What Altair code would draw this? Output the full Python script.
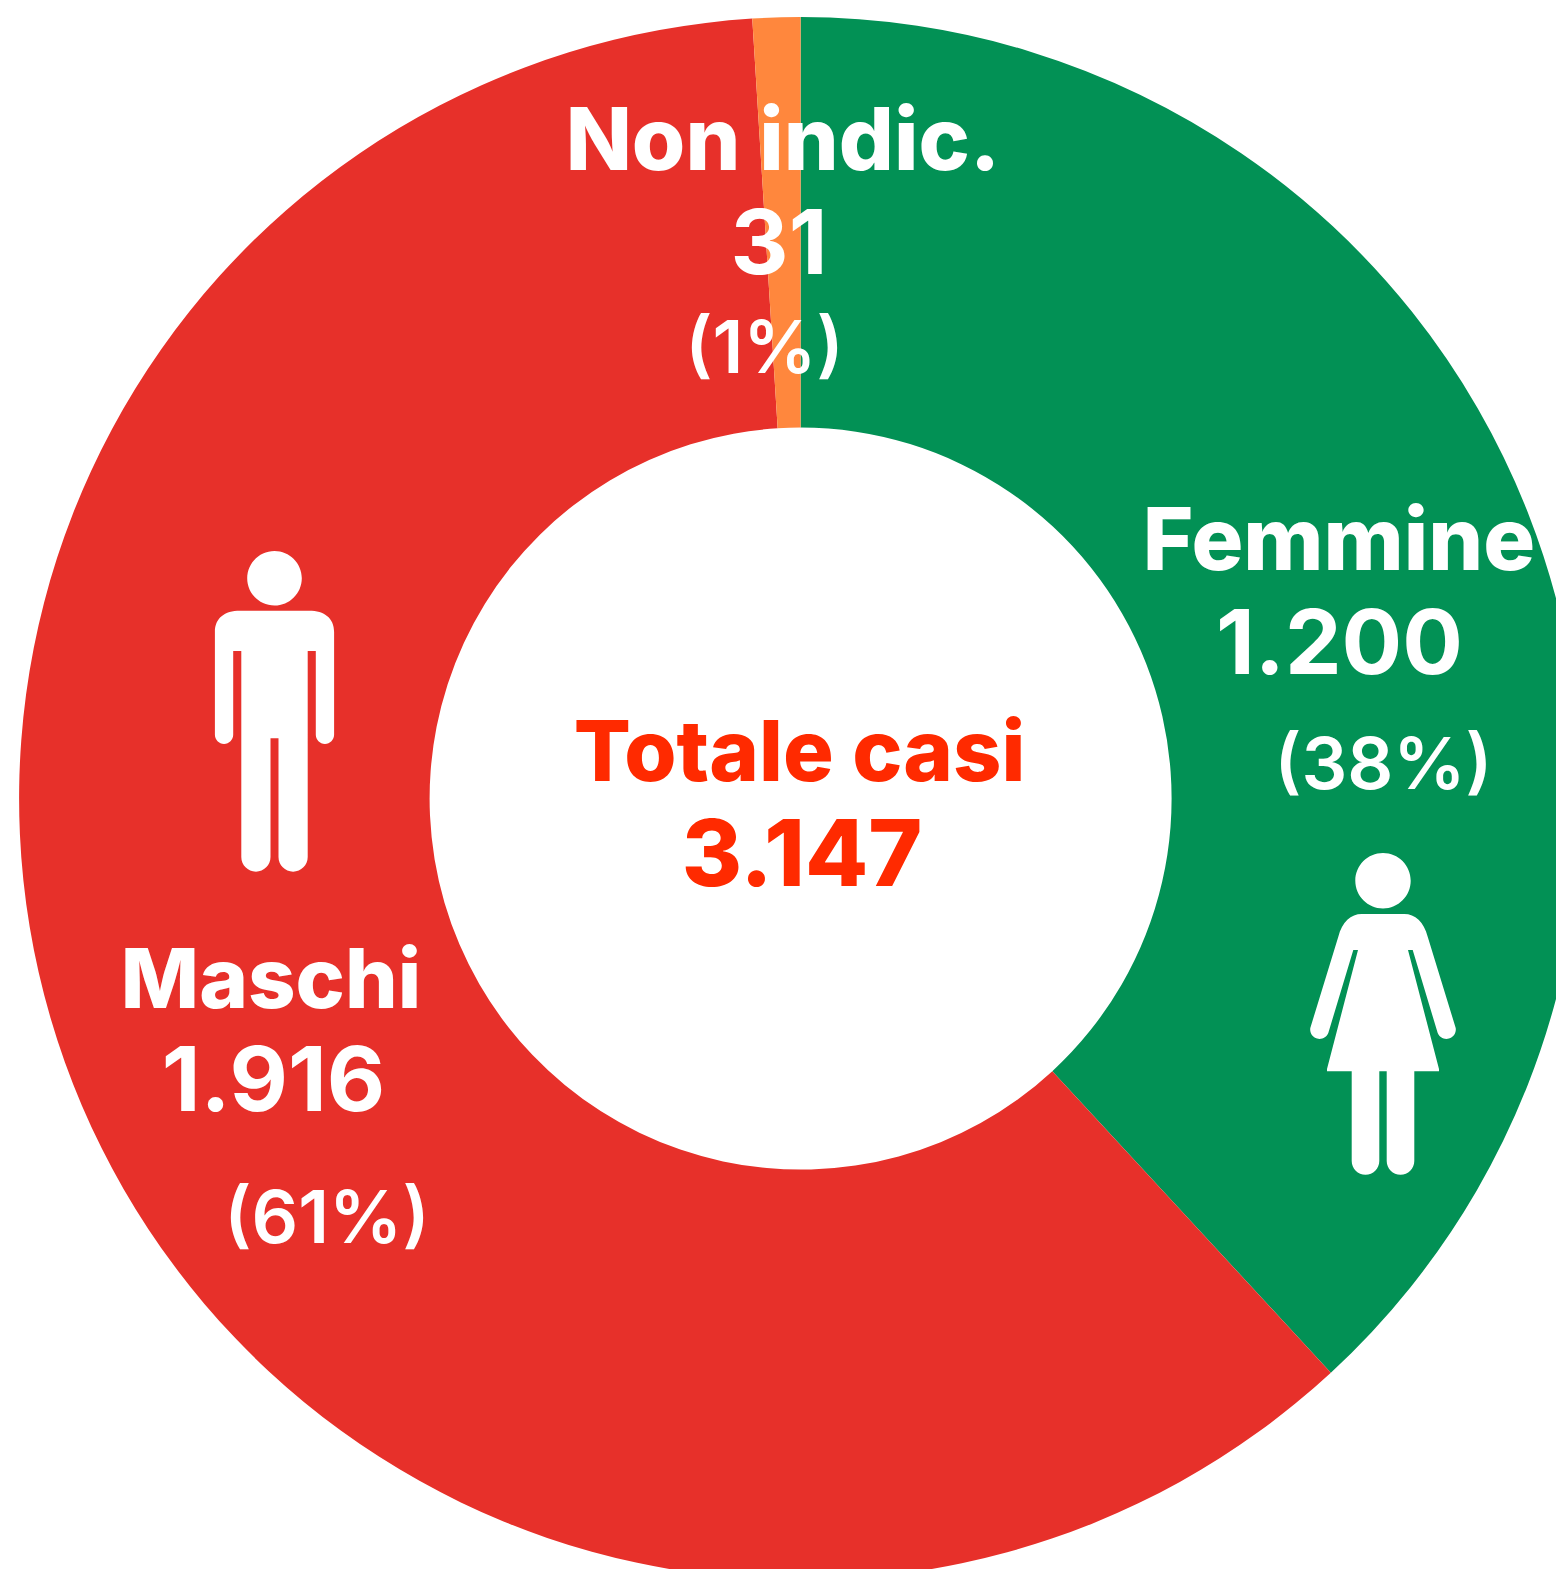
import altair as alt
import pandas as pd

categories = ["Femmine", "Maschi", "Non indic."]
cases = [1200, 1916, 31]
slice_colors = ["#029155", "#E7302A", "#FF873D"]

WHITE = "#FFFFFF"
CENTER = "#FF2A00"
FONT = "Inter"
OX, OY = 8, 8
CX, CY = 800.6 - OX, 798.6 - OY

# text, centre x, baseline y, font size, weight, colour
labels = [
    ("Non indic.", 783, 170, 86.5, 800, WHITE),
    ("31", 779, 274, 90, 700, WHITE),
    ("(1%)", 764.5, 372.5, 73, 600, WHITE),
    ("Femmine", 1339, 570, 86.5, 800, WHITE),
    ("1.200", 1339.5, 674, 90, 700, WHITE),
    ("(38%)", 1383.5, 789, 72, 600, WHITE),
    ("Maschi", 271, 1008, 83, 800, WHITE),
    ("1.916", 273.5, 1111, 90, 700, WHITE),
    ("(61%)", 327, 1243, 73, 600, WHITE),
    ("Totale casi", 799.5, 780.5, 84.5, 800, CENTER),
    ("3.147", 802, 886, 92, 800, CENTER),
]

MALE = ("M-34.5,-129.3 L34.5,-129.3 C50,-129.3 59.6,-122 59.6,-108 L59.6,-5.15 "
        "A9.15,9.15 0 0 1 41.3,-5.15 L41.3,-89 L33.2,-89 L33.2,117.1 "
        "A14.6,14.6 0 0 1 4,117.1 L4,-1.7 L-4,-1.7 L-4,117.1 "
        "A14.6,14.6 0 0 1 -33.2,117.1 L-33.2,-89 L-41.3,-89 L-41.3,-5.15 "
        "A9.15,9.15 0 0 1 -59.6,-5.15 L-59.6,-108 C-59.6,-122 -50,-129.3 -34.5,-129.3 Z "
        "M-27.3,-161.7 A27.3,27.3 0 1 1 27.3,-161.7 A27.3,27.3 0 1 1 -27.3,-161.7 Z")
FEMALE = ("M-21.3,-126 L21.3,-126 C32,-126 41,-118 44.7,-103.3 L72.7,-12 "
          "A9.4,9.4 0 0 1 54.7,-7 L29.7,-90 L25,-90 L56,29 L56,31.3 L31.3,31.3 L31.3,120.9 "
          "A13.8,13.8 0 0 1 3.7,120.9 L3.7,31.3 L-3.7,31.3 L-3.7,120.9 "
          "A13.8,13.8 0 0 1 -31.3,120.9 L-31.3,31.3 L-56,31.3 L-56,29 L-25,-90 L-29.7,-90 L-54.7,-7 "
          "A9.4,9.4 0 0 1 -72.7,-12 L-44.7,-103.3 C-41,-118 -32,-126 -21.3,-126 Z "
          "M-27.7,-159.3 A27.7,27.7 0 1 1 27.7,-159.3 A27.7,27.7 0 1 1 -27.7,-159.3 Z")

df = pd.DataFrame({"categoria": categories, "casi": cases, "ordine": range(len(cases))})

donut = alt.Chart(df).mark_arc(radius=781.5, radius2=371).encode(
    theta=alt.Theta("casi:Q", stack=True),
    order=alt.Order("ordine:Q"),
    color=alt.Color("categoria:N", legend=None,
                    scale=alt.Scale(domain=categories, range=slice_colors)),
    x=alt.value(CX),
    y=alt.value(CY),
)

layers = [donut]
one = pd.DataFrame({"k": [0]})
for path, px, py in [(MALE, 274.5, 740), (FEMALE, 1383, 1040)]:
    layers.append(
        alt.Chart(one).mark_point(shape=path, size=4, filled=True, fill=WHITE,
                                  opacity=1, strokeWidth=0).encode(
            x=alt.value(px - OX), y=alt.value(py - OY))
    )
for text, tx, ty, size, weight, color in labels:
    layers.append(
        alt.Chart(one).mark_text(text=text, font=FONT, fontSize=size, fontWeight=weight,
                                 color=color, align="center", baseline="alphabetic").encode(
            x=alt.value(tx - OX), y=alt.value(ty - OY))
    )

chart = alt.layer(*layers).properties(
    width=1548, height=1561, padding=0,
    autosize=alt.AutoSizeParams(type="none"),
    background="white",
).configure_view(stroke=None)

chart.save("out.html", embed_options={"renderer": "svg", "actions": False})
